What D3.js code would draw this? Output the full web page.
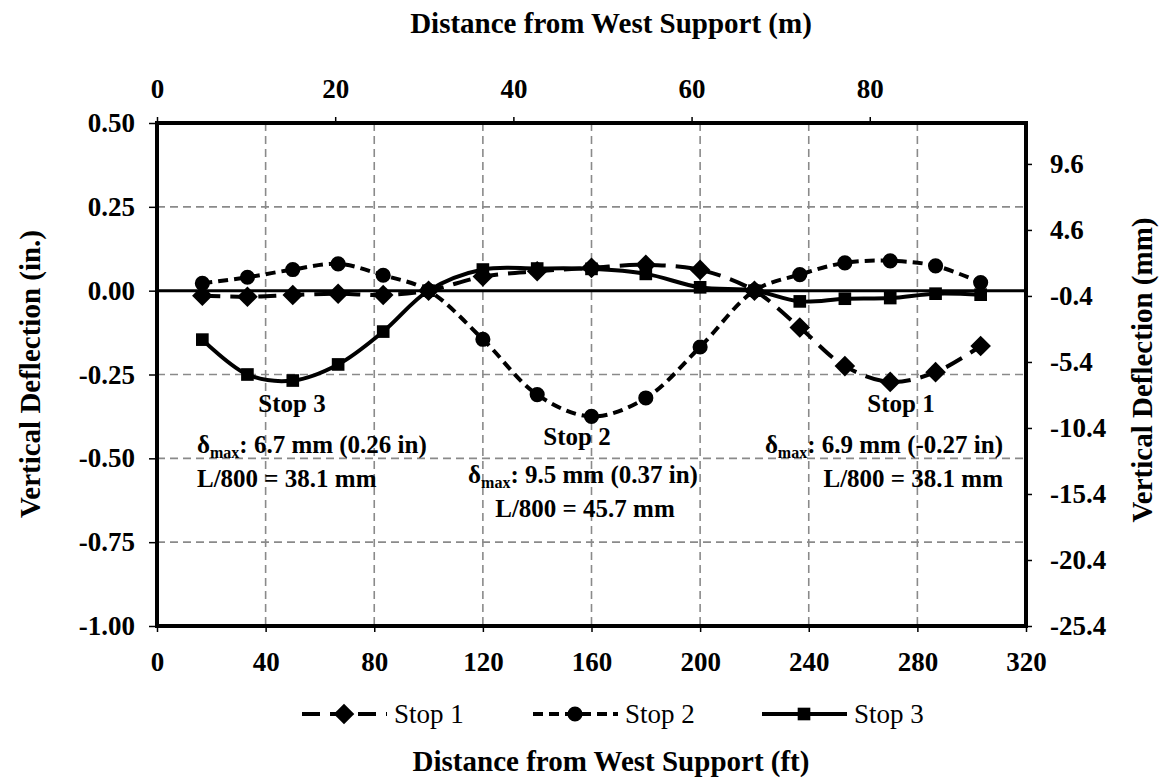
<!DOCTYPE html>
<html>
<head>
<meta charset="utf-8">
<script src="https://cdn.jsdelivr.net/npm/d3@7"></script>
<style>
  body { margin: 0; background: #fff; }
  text { font-family: "Liberation Serif", "Times New Roman", serif; fill: #000; }
</style>
</head>
<body>
<script>
// stations along the bridge (ft) and deflections (in.)
var stations = [16.7, 33.3, 50, 66.7, 83.3, 100, 120, 140, 160, 180, 200, 220, 236.7, 253.3, 270, 286.7, 303.3];
var stop1 = [-0.015, -0.018, -0.013, -0.009, -0.013, 0, 0.042, 0.058, 0.068, 0.077, 0.062, 0, -0.11, -0.225, -0.272, -0.243, -0.165];
var stop2 = [0.022, 0.04, 0.063, 0.08, 0.046, 0, -0.145, -0.31, -0.375, -0.32, -0.168, 0, 0.048, 0.083, 0.089, 0.074, 0.024];
var stop3 = [-0.146, -0.25, -0.268, -0.22, -0.122, 0, 0.063, 0.066, 0.065, 0.05, 0.01, 0, -0.032, -0.024, -0.022, -0.009, -0.012];
var seriesNames = ["Stop 1", "Stop 2", "Stop 3"];

var ftTicks = [0, 40, 80, 120, 160, 200, 240, 280, 320];
var mTicks = [0, 20, 40, 60, 80];
var inTicks = [0.5, 0.25, 0, -0.25, -0.5, -0.75, -1];
var mmTicks = [9.6, 4.6, -0.4, -5.4, -10.4, -15.4, -20.4, -25.4];

//margins of the plot box
var margin = {top: 123, right: 140, bottom: 152, left: 157},
    width = 1166 - margin.left - margin.right,
    height = 778 - margin.top - margin.bottom;

var svg = d3.select("body").append("svg")
    .attr("width", 1166).attr("height", 778);

var g = svg.append("g")
    .attr("transform", "translate(" + margin.left + "," + margin.top + ")");

var x = d3.scaleLinear().domain([0, 320]).range([0, width]);
var y = d3.scaleLinear().domain([-1, 0.5]).range([height, 0]);
var xm = d3.scaleLinear().domain([0, 320 / 3.28084]).range([0, width]);
var ymm = d3.scaleLinear().domain([-25.4, 12.7]).range([height, 0]);

//dashed grey grid
g.selectAll(".vgrid").data(ftTicks.slice(1, -1)).enter().append("line")
    .attr("x1", function(d) { return x(d); }).attr("x2", function(d) { return x(d); })
    .attr("y1", 0).attr("y2", height)
    .attr("stroke", "#8a8a8a").attr("stroke-width", 1.6).attr("stroke-dasharray", "8,5");
g.selectAll(".hgrid").data([0.25, -0.25, -0.5, -0.75]).enter().append("line")
    .attr("x1", 0).attr("x2", width)
    .attr("y1", function(d) { return y(d); }).attr("y2", function(d) { return y(d); })
    .attr("stroke", "#8a8a8a").attr("stroke-width", 1.6).attr("stroke-dasharray", "8,5");

//axes (hyphen minus like the original)
var leftAxis = g.append("g").call(d3.axisLeft(y).tickValues(inTicks).tickSize(8)
    .tickFormat(function(d) { return d.toFixed(2); }));
var bottomAxis = g.append("g").attr("transform", "translate(0," + height + ")")
    .call(d3.axisBottom(x).tickValues(ftTicks).tickSize(6));
var topAxis = g.append("g").call(d3.axisTop(xm).tickValues(mTicks).tickSize(6));
var rightAxis = g.append("g").attr("transform", "translate(" + width + ",0)")
    .call(d3.axisRight(ymm).tickValues(mmTicks).tickSize(6)
    .tickFormat(function(d) { return d.toFixed(1); }));

[leftAxis, bottomAxis, topAxis, rightAxis].forEach(function(a) {
  a.select(".domain").remove();
  a.selectAll(".tick line").attr("stroke", "#000").attr("stroke-width", 1.5);
  a.selectAll("text").style("font-size", "27px").style("font-weight", "bold")
    .style("font-family", "Liberation Serif");
});
leftAxis.selectAll("text").attr("x", -22);
bottomAxis.selectAll("text").attr("y", 45).attr("dy", 0);
topAxis.selectAll("text").attr("y", -25).attr("dy", 0);
rightAxis.selectAll("text").attr("x", 24);

//plot frame and zero line
g.append("rect").attr("width", width).attr("height", height)
    .attr("fill", "none").attr("stroke", "#000").attr("stroke-width", 4);
g.append("line").attr("x1", 0).attr("x2", width).attr("y1", y(0)).attr("y2", y(0))
    .attr("stroke", "#000").attr("stroke-width", 3);

//series
var diamond = d3.symbolDiamond2 || d3.symbolDiamond;
var series = [
  {name: seriesNames[0], vals: stop1, dash: "18,10", shape: diamond, size: 270},
  {name: seriesNames[1], vals: stop2, dash: "10,6", shape: d3.symbolCircle, size: 180},
  {name: seriesNames[2], vals: stop3, dash: null, shape: d3.symbolSquare, size: 160}
];

var line = d3.line()
    .x(function(d) { return x(d[0]); })
    .y(function(d) { return y(d[1]); })
    .curve(d3.curveCatmullRom.alpha(0.5));

series.forEach(function(s) {
  var pts = stations.map(function(st, i) { return [st, s.vals[i]]; });
  g.append("path").datum(pts)
      .attr("d", line).attr("fill", "none")
      .attr("stroke", "#000").attr("stroke-width", 4)
      .attr("stroke-dasharray", s.dash);
  g.selectAll(null).data(pts).enter().append("path")
      .attr("d", d3.symbol().type(s.shape).size(s.size))
      .attr("transform", function(d) { return "translate(" + x(d[0]) + "," + y(d[1]) + ")"; })
      .attr("fill", "#000");
});

//annotations
function label(tx, ty, anchor, txt) {
  return svg.append("text").attr("x", tx).attr("y", ty).attr("text-anchor", anchor)
      .style("font-size", "25px").style("font-weight", "bold").text(txt);
}
function deltaLine(tx, ty, anchor, rest) {
  var t = svg.append("text").attr("x", tx).attr("y", ty).attr("text-anchor", anchor)
      .style("font-size", "25px").style("font-weight", "bold");
  t.append("tspan").text("\u03b4");
  t.append("tspan").attr("dy", 5).style("font-size", "16px").text("max");
  t.append("tspan").attr("dy", -5).text(rest);
}
label(292, 412, "middle", "Stop 3");
deltaLine(197, 453, "start", ": 6.7 mm (0.26 in)");
label(197, 487, "start", "L/800 = 38.1 mm");
label(577, 445, "middle", "Stop 2");
deltaLine(583, 483, "middle", ": 9.5 mm (0.37 in)");
label(585, 517, "middle", "L/800 = 45.7 mm");
label(901, 412, "middle", "Stop 1");
deltaLine(1003, 453, "end", ": 6.9 mm (-0.27 in)");
label(1003, 487, "end", "L/800 = 38.1 mm");

//axis titles
function title(tr, txt) {
  svg.append("text").attr("transform", tr).attr("text-anchor", "middle")
      .style("font-size", "29px").style("font-weight", "bold").text(txt);
}
title("translate(611,33)", "Distance from West Support (m)");
title("translate(611,771)", "Distance from West Support (ft)");
title("translate(40,374) rotate(-90)", "Vertical Deflection (in.)");
title("translate(1152,370) rotate(-90)", "Vertical Deflection (mm)");

//legend
var legX = [302, 533, 762];
var leg = svg.selectAll(".leg").data(series).enter().append("g")
    .attr("transform", function(d, i) { return "translate(" + legX[i] + ",714)"; });
leg.append("line").attr("x1", 0).attr("x2", 85).attr("y1", 0).attr("y2", 0)
    .attr("stroke", "#000").attr("stroke-width", 4)
    .attr("stroke-dasharray", function(d) { return d.dash; });
leg.append("path").attr("transform", "translate(42,0)")
    .attr("d", function(d) { return d3.symbol().type(d.shape).size(d.size)(); });
leg.append("text").attr("x", 92).attr("y", 9).style("font-size", "27px").text(function(d) { return d.name; });
</script>
</body>
</html>
